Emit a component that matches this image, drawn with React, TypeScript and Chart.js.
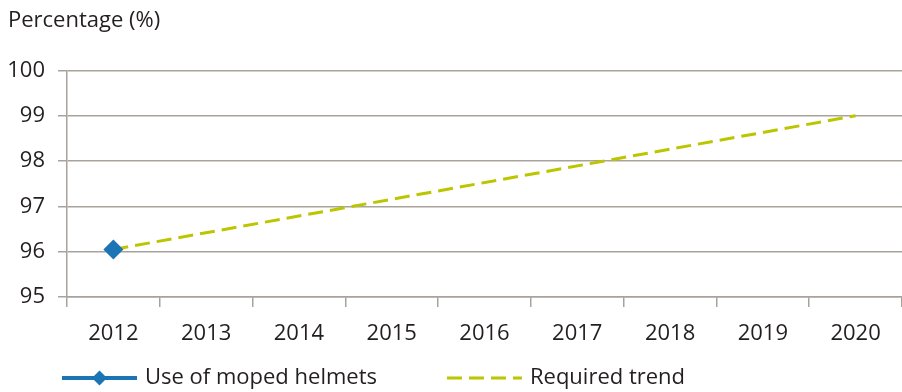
import React, { useEffect, useRef } from "react";
import { Chart, registerables } from "chart.js";

Chart.register(...registerables);

const years = ["2012", "2013", "2014", "2015", "2016", "2017", "2018", "2019", "2020"];
const helmetUse = [96.05, null, null, null, null, null, null, null, null];
const requiredTrend = [96.05, null, null, null, null, null, null, null, 99.0];
const seriesNames = ["Use of moped helmets", "Required trend"];
const yTitle = "Percentage (%)";

const BLUE = "#1b75b4";
const TREND = "#bcc600";
const GRID = "#a8a29d";
const TEXT = "#231f20";
const FONT_FAMILY = '"Open Sans", sans-serif';
const FONT_SIZE = 22;

const legendPlugin = {
  id: "lineLegend",
  afterDraw(chart: any) {
    const ctx = chart.ctx as CanvasRenderingContext2D;
    const y = chart.height - 14;
    let x = chart.chartArea.left - 5;
    const lineLen = 75;
    ctx.save();
    ctx.font = `${FONT_SIZE}px ${FONT_FAMILY}`;
    ctx.textBaseline = "middle";
    ctx.textAlign = "left";
    chart.data.datasets.forEach((ds: any) => {
      ctx.strokeStyle = ds.borderColor;
      ctx.lineWidth = ds.borderWidth;
      ctx.setLineDash(ds.borderDash || []);
      ctx.beginPath();
      ctx.moveTo(x, y);
      ctx.lineTo(x + lineLen, y);
      ctx.stroke();
      ctx.setLineDash([]);
      if (ds.pointRadius > 0) {
        const r = 7.5;
        const cx = x + lineLen / 2;
        ctx.fillStyle = ds.pointBackgroundColor;
        ctx.beginPath();
        ctx.moveTo(cx, y - r);
        ctx.lineTo(cx + r, y);
        ctx.lineTo(cx, y + r);
        ctx.lineTo(cx - r, y);
        ctx.closePath();
        ctx.fill();
      }
      ctx.fillStyle = TEXT;
      const tx = x + lineLen + 8;
      ctx.fillText(ds.label, tx, y);
      x = tx + ctx.measureText(ds.label).width + 70;
    });
    ctx.restore();
  },
};

export default function App() {
  const canvasRef = useRef<HTMLCanvasElement | null>(null);

  useEffect(() => {
    document.body.style.margin = "0";
    const canvas = canvasRef.current;
    if (!canvas) return;
    const chart = new Chart(canvas, {
      type: "line",
      data: {
        labels: years,
        datasets: [
          {
            label: seriesNames[0],
            data: helmetUse,
            borderColor: BLUE,
            backgroundColor: BLUE,
            borderWidth: 4,
            pointStyle: "rectRot",
            pointRadius: 10,
            pointBackgroundColor: BLUE,
            pointBorderColor: BLUE,
            pointBorderWidth: 0,
            spanGaps: true,
          },
          {
            label: seriesNames[1],
            data: requiredTrend,
            borderColor: TREND,
            backgroundColor: TREND,
            borderWidth: 3,
            borderDash: [15, 7],
            pointRadius: 0,
            spanGaps: true,
          },
        ],
      },
      options: {
        animation: false,
        responsive: true,
        maintainAspectRatio: false,
        layout: { autoPadding: false, padding: { left: 8, right: 0, top: 0, bottom: 45 } },
        plugins: {
          legend: { display: false },
          tooltip: { enabled: false },
          title: {
            display: true,
            text: yTitle,
            align: "start",
            color: TEXT,
            font: { family: FONT_FAMILY, size: FONT_SIZE, weight: "normal" },
            padding: { top: 8, bottom: 36 },
          },
        },
        scales: {
          x: {
            offset: true,
            afterFit: (s: any) => {
              s.height = 50;
              s.paddingLeft = 0;
              s.paddingRight = 0;
            },
            grid: {
              offset: true,
              drawOnChartArea: false,
              drawTicks: true,
              tickLength: 10,
              color: GRID,
              lineWidth: 1.5,
            },
            border: { display: true, color: GRID, width: 1.5 },
            ticks: {
              color: TEXT,
              font: { family: FONT_FAMILY, size: FONT_SIZE },
              padding: 14,
              maxRotation: 0,
            },
          },
          y: {
            min: 95,
            max: 100,
            afterFit: (s: any) => {
              s.width = 59;
            },
            grid: {
              color: GRID,
              lineWidth: 1.5,
              tickLength: 9,
              drawTicks: true,
            },
            border: { display: true, color: GRID, width: 1.5 },
            ticks: {
              stepSize: 1,
              color: TEXT,
              font: { family: FONT_FAMILY, size: FONT_SIZE },
              padding: 13,
            },
          },
        },
      },
      plugins: [legendPlugin],
    });
    return () => chart.destroy();
  }, []);

  return (
    <div style={{ position: "relative", width: 902, height: 392 }}>
      <canvas ref={canvasRef} />
    </div>
  );
}
